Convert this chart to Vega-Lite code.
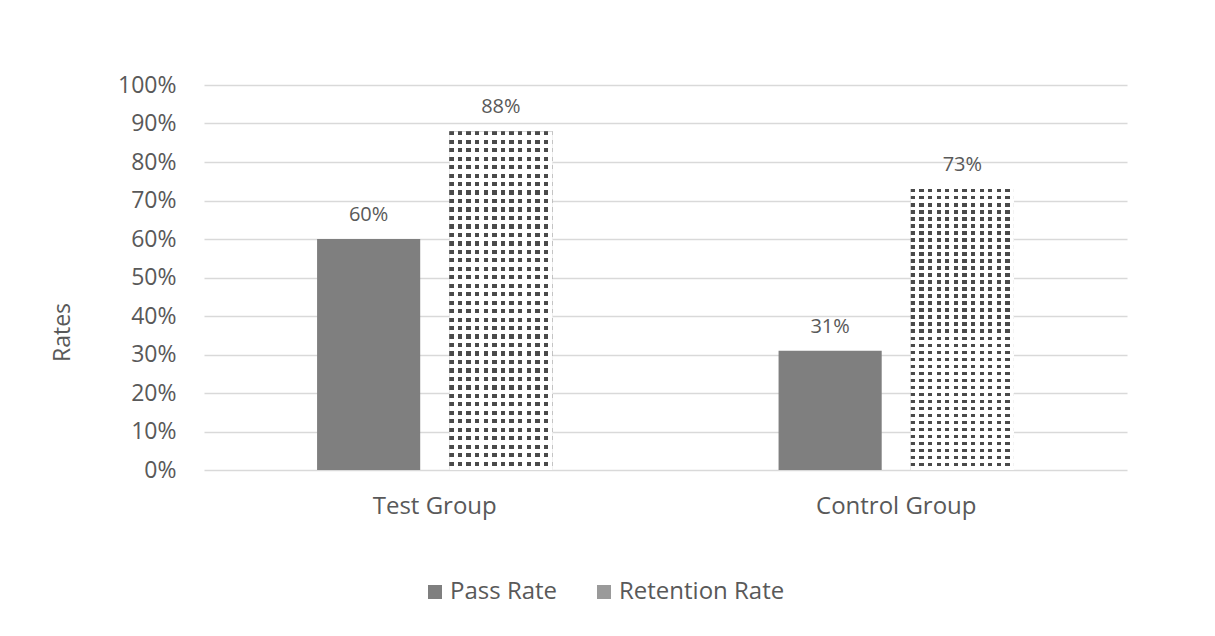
{
  "$schema": "https://vega.github.io/schema/vega-lite/v6.json",
  "width": 923,
  "height": 385,
  "autosize": {"type": "none"},
  "padding": {"left": 204, "top": 85, "right": 88, "bottom": 166},
  "background": "white",
  "config": {"view": {"stroke": null}, "font": "Open Sans"},
  "data": {
    "values": [
      {"group": "Test Group", "series": "Pass Rate", "value": 0.60},
      {"group": "Test Group", "series": "Retention Rate", "value": 0.88},
      {"group": "Control Group", "series": "Pass Rate", "value": 0.31},
      {"group": "Control Group", "series": "Retention Rate", "value": 0.73}
    ]
  },
  "encoding": {
    "x": {
      "field": "group", "type": "nominal", "sort": ["Test Group", "Control Group"],
      "scale": {"paddingInner": 0.49, "paddingOuter": 0.245},
      "axis": {"title": null, "labelAngle": 0, "domain": false, "ticks": false, "labelFontSize": 24, "labelColor": "#595959", "labelPadding": 24, "labelBaseline": "top", "labelFont": "Open Sans"}
    },
    "xOffset": {
      "field": "series", "type": "nominal",
      "scale": {"domain": ["Pass Rate", "Retention Rate"], "paddingInner": 0.22, "paddingOuter": 0}
    },
    "y": {
      "field": "value", "type": "quantitative",
      "scale": {"domain": [0, 1]},
      "axis": {
        "format": ".0%", "values": [0, 0.1, 0.2, 0.3, 0.4, 0.5, 0.6, 0.7, 0.8, 0.9, 1],
        "domain": false, "ticks": false, "gridColor": "#d9d9d9", "gridWidth": 1.5,
        "labelFontSize": 23, "labelColor": "#595959", "labelPadding": 28,
        "title": "Rates", "titleFontSize": 23, "titleFontWeight": "normal", "titleColor": "#595959",
        "titleX": -142, "titleY": 247, "titleAngle": -90, "titleAlign": "center", "titleBaseline": "middle"
      }
    }
  },
  "layer": [
    {
      "mark": {"type": "bar"},
      "encoding": {
        "color": {
          "field": "series", "type": "nominal",
          "scale": {"domain": ["Pass Rate", "Retention Rate"], "range": ["#7f7f7f", "#9a9a9a"]},
          "legend": {"orient": "none", "legendX": 219, "legendY": 495, "direction": "horizontal", "title": null, "symbolType": "square", "symbolSize": 196, "symbolStrokeWidth": 0, "labelFontSize": 24, "labelColor": "#595959", "labelLimit": 400, "columnPadding": 34, "labelOffset": 3}
        }
      }
    },
    {
      "transform": [{"filter": "datum.series === 'Retention Rate'"}],
      "mark": {
        "type": "bar",
        "fill": {
          "gradient": "linear", "x1": 0, "y1": 0, "x2": 0, "y2": 1,
          "stops": [
            {"offset": 0, "color": "#4a4a4a"}, {"offset": 0.0125, "color": "#4a4a4a"}, {"offset": 0.0125, "color": "#ffffff"}, {"offset": 0.025, "color": "#ffffff"},
            {"offset": 0.025, "color": "#4a4a4a"}, {"offset": 0.0375, "color": "#4a4a4a"}, {"offset": 0.0375, "color": "#ffffff"}, {"offset": 0.05, "color": "#ffffff"},
            {"offset": 0.05, "color": "#4a4a4a"}, {"offset": 0.0625, "color": "#4a4a4a"}, {"offset": 0.0625, "color": "#ffffff"}, {"offset": 0.075, "color": "#ffffff"},
            {"offset": 0.075, "color": "#4a4a4a"}, {"offset": 0.0875, "color": "#4a4a4a"}, {"offset": 0.0875, "color": "#ffffff"}, {"offset": 0.1, "color": "#ffffff"},
            {"offset": 0.1, "color": "#4a4a4a"}, {"offset": 0.1125, "color": "#4a4a4a"}, {"offset": 0.1125, "color": "#ffffff"}, {"offset": 0.125, "color": "#ffffff"},
            {"offset": 0.125, "color": "#4a4a4a"}, {"offset": 0.1375, "color": "#4a4a4a"}, {"offset": 0.1375, "color": "#ffffff"}, {"offset": 0.15, "color": "#ffffff"},
            {"offset": 0.15, "color": "#4a4a4a"}, {"offset": 0.1625, "color": "#4a4a4a"}, {"offset": 0.1625, "color": "#ffffff"}, {"offset": 0.175, "color": "#ffffff"},
            {"offset": 0.175, "color": "#4a4a4a"}, {"offset": 0.1875, "color": "#4a4a4a"}, {"offset": 0.1875, "color": "#ffffff"}, {"offset": 0.2, "color": "#ffffff"},
            {"offset": 0.2, "color": "#4a4a4a"}, {"offset": 0.2125, "color": "#4a4a4a"}, {"offset": 0.2125, "color": "#ffffff"}, {"offset": 0.225, "color": "#ffffff"},
            {"offset": 0.225, "color": "#4a4a4a"}, {"offset": 0.2375, "color": "#4a4a4a"}, {"offset": 0.2375, "color": "#ffffff"}, {"offset": 0.25, "color": "#ffffff"},
            {"offset": 0.25, "color": "#4a4a4a"}, {"offset": 0.2625, "color": "#4a4a4a"}, {"offset": 0.2625, "color": "#ffffff"}, {"offset": 0.275, "color": "#ffffff"},
            {"offset": 0.275, "color": "#4a4a4a"}, {"offset": 0.2875, "color": "#4a4a4a"}, {"offset": 0.2875, "color": "#ffffff"}, {"offset": 0.3, "color": "#ffffff"},
            {"offset": 0.3, "color": "#4a4a4a"}, {"offset": 0.3125, "color": "#4a4a4a"}, {"offset": 0.3125, "color": "#ffffff"}, {"offset": 0.325, "color": "#ffffff"},
            {"offset": 0.325, "color": "#4a4a4a"}, {"offset": 0.3375, "color": "#4a4a4a"}, {"offset": 0.3375, "color": "#ffffff"}, {"offset": 0.35, "color": "#ffffff"},
            {"offset": 0.35, "color": "#4a4a4a"}, {"offset": 0.3625, "color": "#4a4a4a"}, {"offset": 0.3625, "color": "#ffffff"}, {"offset": 0.375, "color": "#ffffff"},
            {"offset": 0.375, "color": "#4a4a4a"}, {"offset": 0.3875, "color": "#4a4a4a"}, {"offset": 0.3875, "color": "#ffffff"}, {"offset": 0.4, "color": "#ffffff"},
            {"offset": 0.4, "color": "#4a4a4a"}, {"offset": 0.4125, "color": "#4a4a4a"}, {"offset": 0.4125, "color": "#ffffff"}, {"offset": 0.425, "color": "#ffffff"},
            {"offset": 0.425, "color": "#4a4a4a"}, {"offset": 0.4375, "color": "#4a4a4a"}, {"offset": 0.4375, "color": "#ffffff"}, {"offset": 0.45, "color": "#ffffff"},
            {"offset": 0.45, "color": "#4a4a4a"}, {"offset": 0.4625, "color": "#4a4a4a"}, {"offset": 0.4625, "color": "#ffffff"}, {"offset": 0.475, "color": "#ffffff"},
            {"offset": 0.475, "color": "#4a4a4a"}, {"offset": 0.4875, "color": "#4a4a4a"}, {"offset": 0.4875, "color": "#ffffff"}, {"offset": 0.5, "color": "#ffffff"},
            {"offset": 0.5, "color": "#4a4a4a"}, {"offset": 0.5125, "color": "#4a4a4a"}, {"offset": 0.5125, "color": "#ffffff"}, {"offset": 0.525, "color": "#ffffff"},
            {"offset": 0.525, "color": "#4a4a4a"}, {"offset": 0.5375, "color": "#4a4a4a"}, {"offset": 0.5375, "color": "#ffffff"}, {"offset": 0.55, "color": "#ffffff"},
            {"offset": 0.55, "color": "#4a4a4a"}, {"offset": 0.5625, "color": "#4a4a4a"}, {"offset": 0.5625, "color": "#ffffff"}, {"offset": 0.575, "color": "#ffffff"},
            {"offset": 0.575, "color": "#4a4a4a"}, {"offset": 0.5875, "color": "#4a4a4a"}, {"offset": 0.5875, "color": "#ffffff"}, {"offset": 0.6, "color": "#ffffff"},
            {"offset": 0.6, "color": "#4a4a4a"}, {"offset": 0.6125, "color": "#4a4a4a"}, {"offset": 0.6125, "color": "#ffffff"}, {"offset": 0.625, "color": "#ffffff"},
            {"offset": 0.625, "color": "#4a4a4a"}, {"offset": 0.6375, "color": "#4a4a4a"}, {"offset": 0.6375, "color": "#ffffff"}, {"offset": 0.65, "color": "#ffffff"},
            {"offset": 0.65, "color": "#4a4a4a"}, {"offset": 0.6625, "color": "#4a4a4a"}, {"offset": 0.6625, "color": "#ffffff"}, {"offset": 0.675, "color": "#ffffff"},
            {"offset": 0.675, "color": "#4a4a4a"}, {"offset": 0.6875, "color": "#4a4a4a"}, {"offset": 0.6875, "color": "#ffffff"}, {"offset": 0.7, "color": "#ffffff"},
            {"offset": 0.7, "color": "#4a4a4a"}, {"offset": 0.7125, "color": "#4a4a4a"}, {"offset": 0.7125, "color": "#ffffff"}, {"offset": 0.725, "color": "#ffffff"},
            {"offset": 0.725, "color": "#4a4a4a"}, {"offset": 0.7375, "color": "#4a4a4a"}, {"offset": 0.7375, "color": "#ffffff"}, {"offset": 0.75, "color": "#ffffff"},
            {"offset": 0.75, "color": "#4a4a4a"}, {"offset": 0.7625, "color": "#4a4a4a"}, {"offset": 0.7625, "color": "#ffffff"}, {"offset": 0.775, "color": "#ffffff"},
            {"offset": 0.775, "color": "#4a4a4a"}, {"offset": 0.7875, "color": "#4a4a4a"}, {"offset": 0.7875, "color": "#ffffff"}, {"offset": 0.8, "color": "#ffffff"},
            {"offset": 0.8, "color": "#4a4a4a"}, {"offset": 0.8125, "color": "#4a4a4a"}, {"offset": 0.8125, "color": "#ffffff"}, {"offset": 0.825, "color": "#ffffff"},
            {"offset": 0.825, "color": "#4a4a4a"}, {"offset": 0.8375, "color": "#4a4a4a"}, {"offset": 0.8375, "color": "#ffffff"}, {"offset": 0.85, "color": "#ffffff"},
            {"offset": 0.85, "color": "#4a4a4a"}, {"offset": 0.8625, "color": "#4a4a4a"}, {"offset": 0.8625, "color": "#ffffff"}, {"offset": 0.875, "color": "#ffffff"},
            {"offset": 0.875, "color": "#4a4a4a"}, {"offset": 0.8875, "color": "#4a4a4a"}, {"offset": 0.8875, "color": "#ffffff"}, {"offset": 0.9, "color": "#ffffff"},
            {"offset": 0.9, "color": "#4a4a4a"}, {"offset": 0.9125, "color": "#4a4a4a"}, {"offset": 0.9125, "color": "#ffffff"}, {"offset": 0.925, "color": "#ffffff"},
            {"offset": 0.925, "color": "#4a4a4a"}, {"offset": 0.9375, "color": "#4a4a4a"}, {"offset": 0.9375, "color": "#ffffff"}, {"offset": 0.95, "color": "#ffffff"},
            {"offset": 0.95, "color": "#4a4a4a"}, {"offset": 0.9625, "color": "#4a4a4a"}, {"offset": 0.9625, "color": "#ffffff"}, {"offset": 0.975, "color": "#ffffff"},
            {"offset": 0.975, "color": "#4a4a4a"}, {"offset": 0.9875, "color": "#4a4a4a"}, {"offset": 0.9875, "color": "#ffffff"}, {"offset": 1, "color": "#ffffff"}
          ]
        }
      }
    },
    {
      "transform": [{"filter": "datum.series === 'Retention Rate'"}],
      "mark": {
        "type": "bar",
        "fill": {
          "gradient": "linear", "x1": 0, "y1": 0, "x2": 1, "y2": 0,
          "stops": [
            {"offset": 0, "color": "rgba(255,255,255,0)"}, {"offset": 0.0417, "color": "rgba(255,255,255,0)"}, {"offset": 0.0417, "color": "#ffffff"}, {"offset": 0.0833, "color": "#ffffff"},
            {"offset": 0.0833, "color": "rgba(255,255,255,0)"}, {"offset": 0.125, "color": "rgba(255,255,255,0)"}, {"offset": 0.125, "color": "#ffffff"}, {"offset": 0.1667, "color": "#ffffff"},
            {"offset": 0.1667, "color": "rgba(255,255,255,0)"}, {"offset": 0.2083, "color": "rgba(255,255,255,0)"}, {"offset": 0.2083, "color": "#ffffff"}, {"offset": 0.25, "color": "#ffffff"},
            {"offset": 0.25, "color": "rgba(255,255,255,0)"}, {"offset": 0.2917, "color": "rgba(255,255,255,0)"}, {"offset": 0.2917, "color": "#ffffff"}, {"offset": 0.3333, "color": "#ffffff"},
            {"offset": 0.3333, "color": "rgba(255,255,255,0)"}, {"offset": 0.375, "color": "rgba(255,255,255,0)"}, {"offset": 0.375, "color": "#ffffff"}, {"offset": 0.4167, "color": "#ffffff"},
            {"offset": 0.4167, "color": "rgba(255,255,255,0)"}, {"offset": 0.4583, "color": "rgba(255,255,255,0)"}, {"offset": 0.4583, "color": "#ffffff"}, {"offset": 0.5, "color": "#ffffff"},
            {"offset": 0.5, "color": "rgba(255,255,255,0)"}, {"offset": 0.5417, "color": "rgba(255,255,255,0)"}, {"offset": 0.5417, "color": "#ffffff"}, {"offset": 0.5833, "color": "#ffffff"},
            {"offset": 0.5833, "color": "rgba(255,255,255,0)"}, {"offset": 0.625, "color": "rgba(255,255,255,0)"}, {"offset": 0.625, "color": "#ffffff"}, {"offset": 0.6667, "color": "#ffffff"},
            {"offset": 0.6667, "color": "rgba(255,255,255,0)"}, {"offset": 0.7083, "color": "rgba(255,255,255,0)"}, {"offset": 0.7083, "color": "#ffffff"}, {"offset": 0.75, "color": "#ffffff"},
            {"offset": 0.75, "color": "rgba(255,255,255,0)"}, {"offset": 0.7917, "color": "rgba(255,255,255,0)"}, {"offset": 0.7917, "color": "#ffffff"}, {"offset": 0.8333, "color": "#ffffff"},
            {"offset": 0.8333, "color": "rgba(255,255,255,0)"}, {"offset": 0.875, "color": "rgba(255,255,255,0)"}, {"offset": 0.875, "color": "#ffffff"}, {"offset": 0.9167, "color": "#ffffff"},
            {"offset": 0.9167, "color": "rgba(255,255,255,0)"}, {"offset": 0.9583, "color": "rgba(255,255,255,0)"}, {"offset": 0.9583, "color": "#ffffff"}, {"offset": 1, "color": "#ffffff"}
          ]
        }
      }
    },
    {
      "mark": {"type": "text", "baseline": "alphabetic", "dy": -18, "fontSize": 20, "color": "#595959", "font": "Open Sans"},
      "encoding": {
        "text": {"field": "value", "type": "quantitative", "format": ".0%"}
      }
    }
  ]
}
